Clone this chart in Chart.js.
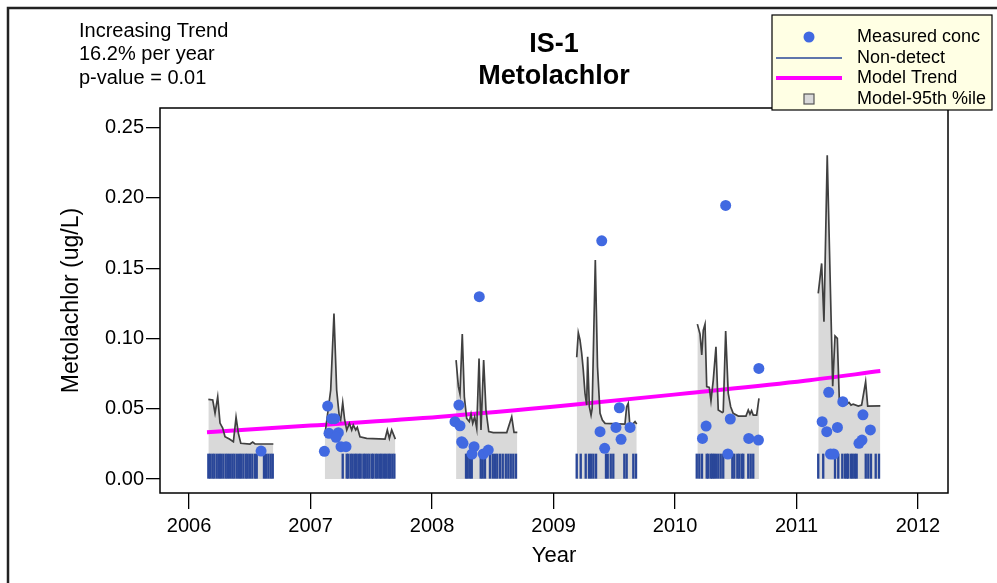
<!DOCTYPE html>
<html lang="en">
<head>
<meta charset="UTF-8">
<title>IS-1 Metolachlor</title>
<script src="https://cdn.jsdelivr.net/npm/chart.js"></script>
<style>
    html, body { margin: 0; padding: 0; background: #fff; }
    #wrap { width: 997px; height: 583px; }
</style>
</head>
<body>
<div id="wrap"><canvas id="graphique" width="997" height="583"></canvas></div>
<script>
// ---- data ----
const titleLines = ['IS-1', 'Metolachlor'];
const trendNotes = ['Increasing Trend', '16.2% per year', 'p-value = 0.01'];
const yTicks = [0, 0.05, 0.10, 0.15, 0.20, 0.25];
const xTicks = [2006, 2007, 2008, 2009, 2010, 2011, 2012];

// measured concentrations (detects)
const measYear = [2006.593,
    2007.141, 2007.174, 2007.199, 2007.152, 2007.229, 2007.210, 2007.114, 2007.251, 2007.292,
    2008.389, 2008.221, 2008.189, 2008.230, 2008.244, 2008.255, 2008.346, 2008.329, 2008.422, 2008.463,
    2009.397, 2009.542, 2009.383, 2009.514, 2009.630, 2009.556, 2009.421,
    2010.417, 2010.690, 2010.455, 2010.256, 2010.226, 2010.607, 2010.687, 2010.435,
    2011.265, 2011.381, 2011.547, 2011.211, 2011.249, 2011.337, 2011.608, 2011.539, 2011.514, 2011.280, 2011.306];
const measConc = [0.0199,
    0.0519, 0.0429, 0.0429, 0.0325, 0.0330, 0.0297, 0.0197, 0.0230, 0.0230,
    0.1297, 0.0526, 0.0408, 0.0379, 0.0265, 0.0254, 0.0230, 0.0178, 0.0178, 0.0206,
    0.1695, 0.0507, 0.0337, 0.0367, 0.0367, 0.0282, 0.0218,
    0.1947, 0.0787, 0.0427, 0.0377, 0.0289, 0.0289, 0.0277, 0.0178,
    0.0617, 0.0550, 0.0457, 0.0408, 0.0337, 0.0367, 0.0349, 0.0277, 0.0254, 0.0178, 0.0178];

// non-detects (drawn as a rug up to the reporting limit)
const ndLimit = 0.0178;
const ndYear = [
    2006.159, 2006.173, 2006.192, 2006.208, 2006.228, 2006.247, 2006.263, 2006.282, 2006.302, 2006.319,
    2006.337, 2006.356, 2006.373, 2006.393, 2006.412, 2006.428, 2006.447, 2006.467, 2006.483, 2006.502,
    2006.521, 2006.543, 2006.557, 2006.617, 2006.634, 2006.653, 2006.672, 2006.689,
    2007.265, 2007.298, 2007.311, 2007.331, 2007.347, 2007.366, 2007.380, 2007.399, 2007.413, 2007.435,
    2007.449, 2007.467, 2007.484, 2007.504, 2007.517, 2007.537, 2007.553, 2007.572, 2007.586, 2007.605,
    2007.621, 2007.640, 2007.654, 2007.673, 2007.690,
    2008.280, 2008.294, 2008.313, 2008.327, 2008.401, 2008.417, 2008.436, 2008.477, 2008.500, 2008.519,
    2008.537, 2008.560, 2008.582, 2008.607, 2008.628, 2008.648, 2008.669, 2008.691,
    2009.191, 2009.224, 2009.265, 2009.292, 2009.309, 2009.328, 2009.350, 2009.432, 2009.446, 2009.471,
    2009.492, 2009.583, 2009.602, 2009.657, 2009.679,
    2010.179, 2010.200, 2010.222, 2010.261, 2010.274, 2010.294, 2010.307, 2010.321, 2010.337, 2010.356,
    2010.376, 2010.397, 2010.472, 2010.488, 2010.513, 2010.529, 2010.549, 2010.562, 2010.603, 2010.623,
    2010.644,
    2011.179, 2011.220, 2011.317, 2011.344, 2011.377, 2011.399, 2011.414, 2011.426, 2011.449, 2011.463,
    2011.481, 2011.495, 2011.570, 2011.591, 2011.613, 2011.652, 2011.679];

// model 95th percentile, one array per sampling season: [year, conc]
const p95_2006 = [[2006.159, 0.0567], [2006.195, 0.0562], [2006.214, 0.0469], [2006.236, 0.0585], [2006.255, 0.0398],
    [2006.277, 0.0363], [2006.296, 0.0301], [2006.332, 0.0284], [2006.365, 0.0265], [2006.387, 0.0439],
    [2006.406, 0.0325], [2006.426, 0.0254], [2006.502, 0.0249], [2006.524, 0.0263], [2006.543, 0.0249], [2006.694, 0.0249]];
const p95_2007 = [[2007.117, 0.0306], [2007.166, 0.0633], [2007.193, 0.1178], [2007.215, 0.0633], [2007.237, 0.0443],
    [2007.248, 0.0420], [2007.265, 0.0543], [2007.281, 0.0420], [2007.298, 0.0349], [2007.320, 0.0396],
    [2007.339, 0.0349], [2007.352, 0.0384], [2007.372, 0.0349], [2007.385, 0.0368], [2007.407, 0.0301],
    [2007.462, 0.0289], [2007.613, 0.0284], [2007.632, 0.0349], [2007.649, 0.0289], [2007.668, 0.0349], [2007.698, 0.0284]];
const p95_2008 = [[2008.198, 0.0846], [2008.217, 0.0657], [2008.230, 0.0605], [2008.249, 0.1031], [2008.266, 0.0585],
    [2008.285, 0.0432], [2008.307, 0.0408], [2008.321, 0.0462], [2008.335, 0.0396], [2008.351, 0.0443],
    [2008.368, 0.0360], [2008.387, 0.0858], [2008.403, 0.0349], [2008.425, 0.0846], [2008.444, 0.0491],
    [2008.467, 0.0337], [2008.504, 0.0330], [2008.615, 0.0330], [2008.656, 0.0443], [2008.675, 0.0332], [2008.702, 0.0332]];
const p95_2009 = [[2009.191, 0.0866], [2009.204, 0.1041], [2009.218, 0.0989], [2009.232, 0.0894], [2009.245, 0.0775],
    [2009.259, 0.0610], [2009.273, 0.0526], [2009.281, 0.0870], [2009.295, 0.0514], [2009.309, 0.0455],
    [2009.318, 0.0500], [2009.344, 0.1558], [2009.362, 0.0800], [2009.383, 0.0467], [2009.402, 0.0420],
    [2009.424, 0.0396], [2009.588, 0.0391], [2009.602, 0.0514], [2009.615, 0.0538], [2009.627, 0.0396],
    [2009.652, 0.0391], [2009.671, 0.0408], [2009.685, 0.0391]];
const p95_2010 = [[2010.184, 0.1102], [2010.206, 0.1031], [2010.220, 0.0882], [2010.233, 0.1060], [2010.247, 0.1102],
    [2010.261, 0.0657], [2010.282, 0.0652], [2010.296, 0.0557], [2010.315, 0.0704], [2010.337, 0.0941],
    [2010.356, 0.0491], [2010.389, 0.0474], [2010.397, 0.0479], [2010.417, 0.1053], [2010.438, 0.0610],
    [2010.458, 0.0514], [2010.479, 0.0467], [2010.521, 0.0448], [2010.584, 0.0448], [2010.603, 0.0491],
    [2010.617, 0.0462], [2010.630, 0.0486], [2010.644, 0.0455], [2010.672, 0.0455], [2010.691, 0.0574]];
const p95_2011 = [[2011.179, 0.1321], [2011.207, 0.1534], [2011.226, 0.1119], [2011.253, 0.2304], [2011.298, 0.0661],
    [2011.317, 0.1017], [2011.336, 0.1000], [2011.352, 0.0574], [2011.385, 0.0550], [2011.413, 0.0533],
    [2011.432, 0.0545], [2011.449, 0.0526], [2011.467, 0.0533], [2011.509, 0.0519], [2011.536, 0.0526],
    [2011.569, 0.0692], [2011.586, 0.0519], [2011.690, 0.0521]];

// model trend
const trendYear = [2006.148, 2007.0, 2008.07, 2009.14, 2010.12, 2011.07, 2011.69];
const trendConc = [0.0332, 0.0380, 0.0443, 0.0526, 0.0612, 0.0699, 0.0768];

const legendLabels = ['Measured conc', 'Non-detect', 'Model Trend', 'Model-95th %ile'];

// ---- style ----
const FONT = '"Liberation Sans", Arial, Helvetica, sans-serif';
const BLUE = '#4169E1';
const ND_BLUE = '#2A4799';
const MAGENTA = '#FF00FF';
const GRAY_FILL = '#D9D9D9';
const GRAY_LINE = '#404040';

const seasons = [p95_2006, p95_2007, p95_2008, p95_2009, p95_2010, p95_2011];

const datasets = [];
datasets.push({
    type: 'scatter',
    label: legendLabels[0],
    data: measYear.map((x, i) => ({ x: x, y: measConc[i] })),
    backgroundColor: BLUE,
    borderWidth: 0,
    pointRadius: 5.5,
    order: 0
});
seasons.forEach(s => {
    datasets.push({
        type: 'line',
        label: legendLabels[3],
        data: s.map(p => ({ x: p[0], y: p[1] })),
        borderColor: GRAY_LINE,
        borderWidth: 1.7,
        backgroundColor: GRAY_FILL,
        fill: 'origin',
        pointRadius: 0,
        tension: 0,
        order: 1
    });
});
datasets.push({
    type: 'line',
    label: legendLabels[2],
    data: trendYear.map((x, i) => ({ x: x, y: trendConc[i] })),
    borderColor: MAGENTA,
    borderWidth: 4,
    pointRadius: 0,
    cubicInterpolationMode: 'monotone',
    fill: false,
    order: 2
});
datasets.push({
    type: 'bar',
    label: legendLabels[1],
    data: ndYear.map(x => ({ x: x, y: [0, ndLimit] })),
    backgroundColor: ND_BLUE,
    borderWidth: 0,
    barThickness: 1.7,
    grouped: false,
    order: 3
});

// texts, box, legend drawn over the chart
const decor = {
    id: 'decor',
    afterDraw(chart) {
        const ctx = chart.ctx;
        const a = chart.chartArea;
        ctx.save();

        // outer frame
        ctx.strokeStyle = '#222';
        ctx.lineWidth = 2.5;
        ctx.beginPath();
        ctx.moveTo(8, 600);
        ctx.lineTo(8, 8);
        ctx.lineTo(1000, 8);
        ctx.stroke();

        // plot box
        ctx.strokeStyle = '#000';
        ctx.lineWidth = 1.5;
        ctx.strokeRect(a.left, a.top, a.right - a.left, a.bottom - a.top);

        // title
        const cx = (a.left + a.right) / 2;
        ctx.fillStyle = '#000';
        ctx.textAlign = 'center';
        ctx.textBaseline = 'middle';
        ctx.font = 'bold 27px ' + FONT;
        ctx.fillText(titleLines[0], cx, 45);
        ctx.fillText(titleLines[1], cx, 77);

        // axis titles
        ctx.font = '22px ' + FONT;
        ctx.fillText('Year', cx, 556);
        ctx.save();
        ctx.translate(72, (a.top + a.bottom) / 2);
        ctx.rotate(-Math.PI / 2);
        ctx.font = '23px ' + FONT;
        ctx.fillText('Metolachlor (ug/L)', 0, 0);
        ctx.restore();

        // trend notes
        ctx.textAlign = 'left';
        ctx.font = '20px ' + FONT;
        trendNotes.forEach((t, i) => ctx.fillText(t, 79, 31 + i * 23.5));

        // legend
        const lx = 772, ly = 15, lw = 220, lh = 95;
        ctx.fillStyle = '#FFFFE4';
        ctx.fillRect(lx, ly, lw, lh);
        ctx.strokeStyle = '#000';
        ctx.lineWidth = 1.2;
        ctx.strokeRect(lx, ly, lw, lh);
        const rows = [37, 58, 78, 99];
        const sx = 809;
        // dot
        ctx.fillStyle = BLUE;
        ctx.beginPath();
        ctx.arc(sx, rows[0], 5.5, 0, Math.PI * 2);
        ctx.fill();
        // non-detect line
        ctx.strokeStyle = ND_BLUE;
        ctx.lineWidth = 1.5;
        ctx.beginPath();
        ctx.moveTo(776, rows[1]);
        ctx.lineTo(842, rows[1]);
        ctx.stroke();
        // trend
        ctx.strokeStyle = MAGENTA;
        ctx.lineWidth = 4;
        ctx.beginPath();
        ctx.moveTo(776, rows[2]);
        ctx.lineTo(842, rows[2]);
        ctx.stroke();
        // square
        ctx.fillStyle = GRAY_FILL;
        ctx.fillRect(sx - 5, rows[3] - 5, 10, 10);
        ctx.strokeStyle = '#555';
        ctx.lineWidth = 1.2;
        ctx.strokeRect(sx - 5, rows[3] - 5, 10, 10);

        ctx.fillStyle = '#000';
        ctx.font = '18px ' + FONT;
        legendLabels.forEach((t, i) => ctx.fillText(t, 857, rows[i]));

        ctx.restore();
    }
};

const graphique = new Chart(document.getElementById('graphique').getContext('2d'), {
    type: 'scatter',
    data: { datasets: datasets },
    options: {
        responsive: false,
        animation: false,
        layout: { padding: { left: 0, top: 108, right: 49, bottom: 0 } },
        plugins: {
            legend: { display: false },
            tooltip: { enabled: false },
            filler: { drawTime: 'beforeDatasetsDraw' }
        },
        scales: {
            x: {
                type: 'linear',
                min: 2005.761,
                max: 2012.247,
                offset: false,
                afterBuildTicks: s => { s.ticks = xTicks.map(v => ({ value: v })); },
                ticks: {
                    autoSkip: false,
                    maxRotation: 0,
                    color: '#000',
                    padding: 5,
                    font: { family: FONT, size: 20 },
                    callback: v => String(v)
                },
                grid: { offset: false, drawOnChartArea: false, drawTicks: true, tickLength: 16, color: '#000', lineWidth: 1.3 },
                border: { display: false },
                afterFit: s => { s.height = 90; }
            },
            y: {
                type: 'linear',
                min: -0.00996,
                max: 0.264,
                afterBuildTicks: s => { s.ticks = yTicks.map(v => ({ value: v })); },
                ticks: {
                    color: '#000',
                    padding: 2,
                    font: { family: FONT, size: 20 },
                    callback: v => v.toFixed(2)
                },
                grid: { offset: false, drawOnChartArea: false, drawTicks: true, tickLength: 14, color: '#000', lineWidth: 1.3 },
                border: { display: false },
                afterFit: s => { s.width = 160; }
            }
        }
    },
    plugins: [decor]
});
</script>
</body>
</html>
